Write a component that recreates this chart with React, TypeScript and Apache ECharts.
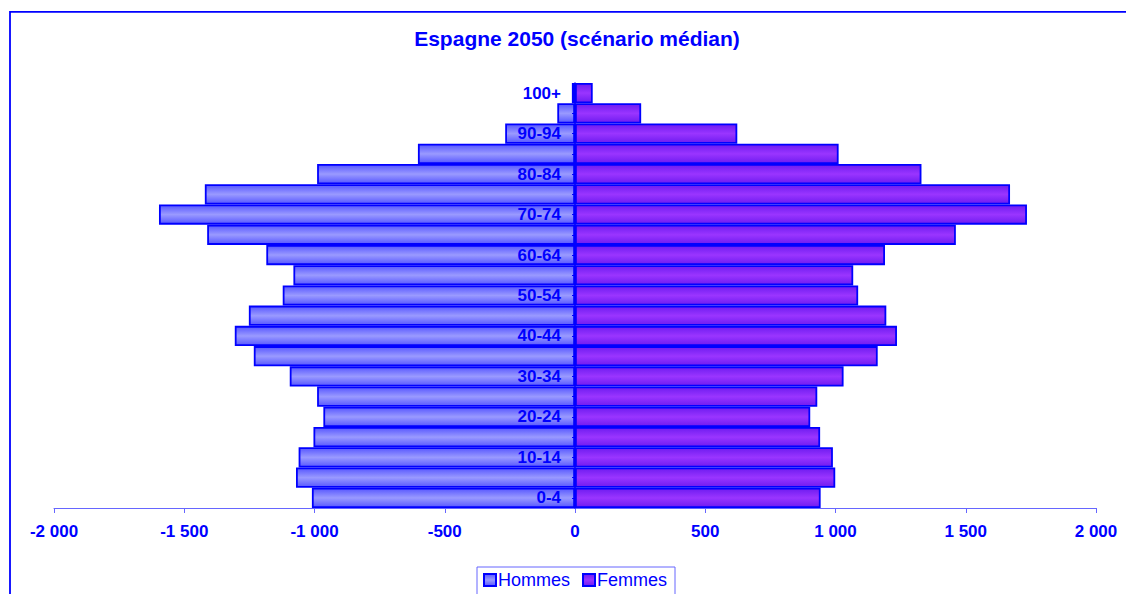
import React, { useEffect, useRef } from "react";
import * as echarts from "echarts";

const ageGroups = [
  "0-4", "5-9", "10-14", "15-19", "20-24", "25-29", "30-34", "35-39", "40-44", "45-49",
  "50-54", "55-59", "60-64", "65-69", "70-74", "75-79", "80-84", "85-89", "90-94", "95-99", "100+",
];
// thousands, negative = left side
const hommes = [
  -1010, -1071, -1061, -1004, -966, -990, -1095, -1233, -1306, -1252,
  -1122, -1081, -1185, -1412, -1597, -1421, -990, -603, -268, -68, -12,
];
const femmes = [
  943, 999, 990, 941, 903, 930, 1031, 1162, 1236, 1195,
  1087, 1068, 1190, 1462, 1735, 1670, 1330, 1012, 623, 254, 68,
];
const titleText = "Espagne 2050 (scénario médian)";
const seriesNames = ["Hommes", "Femmes"];

const BLUE = "#0000ff";
const FONT = "'Liberation Sans', Arial, sans-serif";

function fmt(v: number): string {
  const neg = v < 0;
  const s = String(Math.abs(v)).replace(/\B(?=(\d{3})+(?!\d))/g, " ");
  return (neg ? "-" : "") + s;
}

const GRID_LEFT = 54;
const GRID_RIGHT = 30;
const WIDTH = 1126;

export default function App() {
  const ref = useRef<HTMLDivElement>(null);
  useEffect(() => {
    if (!ref.current) return;
    const chart = echarts.init(ref.current, null, { renderer: "svg" });
    const grad = (edge: string, mid: string) =>
      new echarts.graphic.LinearGradient(0, 0, 0, 1, [
        { offset: 0, color: edge },
        { offset: 0.5, color: mid },
        { offset: 1, color: edge },
      ]);
    const plotW = WIDTH - GRID_LEFT - GRID_RIGHT;
    const zeroOffset = plotW / 2; // x=0 in the middle of symmetric range
    chart.setOption({
      animation: false,
      backgroundColor: "#ffffff",
      textStyle: { fontFamily: FONT },
      title: {
        text: titleText,
        left: 572,
        textAlign: "center",
        top: 23,
        textStyle: { color: BLUE, fontSize: 21, fontWeight: "bold", fontFamily: FONT },
      },
      graphic: [
        {
          type: "rect",
          shape: { x: 10, y: 11.8, width: 1300, height: 800 },
          style: { fill: "none", stroke: BLUE, lineWidth: 1.8 },
          silent: true,
        },
      ],
      legend: {
        data: seriesNames,
        left: 477,
        top: 567,
        icon: "rect",
        itemWidth: 12,
        itemHeight: 12,
        itemGap: 12,
        padding: [4, 8, 8, 6],
        borderColor: "#6666ff",
        borderWidth: 1,
        textStyle: { color: BLUE, fontSize: 18, fontFamily: FONT, padding: [0, 0, 0, -3] },
      },
      grid: {
        left: GRID_LEFT,
        right: GRID_RIGHT,
        top: 83,
        bottom: 86,
        containLabel: false,
        outerBoundsMode: "none",
      },
      xAxis: {
        type: "value",
        min: -2000,
        max: 2000,
        interval: 500,
        splitLine: { show: false },
        axisLine: { show: true, onZero: false, lineStyle: { color: "#6666ff", width: 1 } },
        axisTick: { show: true, length: 5, lineStyle: { color: "#6666ff" } },
        axisLabel: {
          color: BLUE,
          fontSize: 17,
          fontWeight: "bold",
          fontFamily: FONT,
          margin: 15,
          formatter: (v: number) => fmt(v),
        },
      },
      yAxis: {
        type: "category",
        data: ageGroups,
        z: 10,
        position: "left",
        offset: -zeroOffset,
        axisLine: { show: true, onZero: false, lineStyle: { color: BLUE, width: 1.5 } },
        axisTick: { show: true, length: 3, alignWithLabel: true, interval: 0, lineStyle: { color: BLUE } },
        axisLabel: {
          interval: 1,
          color: BLUE,
          fontSize: 17,
          fontWeight: "bold",
          fontFamily: FONT,
          margin: 14,
        },
      },
      series: [
        {
          name: seriesNames[0],
          type: "bar",
          data: hommes,
          barGap: "-100%",
          barCategoryGap: "0%",
          itemStyle: {
            color: grad("#5858ff", "#9a9aff"),
            borderColor: BLUE,
            borderWidth: 1.8,
          },
        },
        {
          name: seriesNames[1],
          type: "bar",
          data: femmes,
          barGap: "-100%",
          barCategoryGap: "0%",
          itemStyle: {
            color: grad("#6f1cf0", "#9a35ff"),
            borderColor: BLUE,
            borderWidth: 1.8,
          },
        },
      ],
    });
    return () => chart.dispose();
  }, []);
  return (
    <div
      ref={ref}
      style={{ position: "fixed", left: 0, top: 0, width: 1126, height: 594, background: "#fff" }}
    />
  );
}
